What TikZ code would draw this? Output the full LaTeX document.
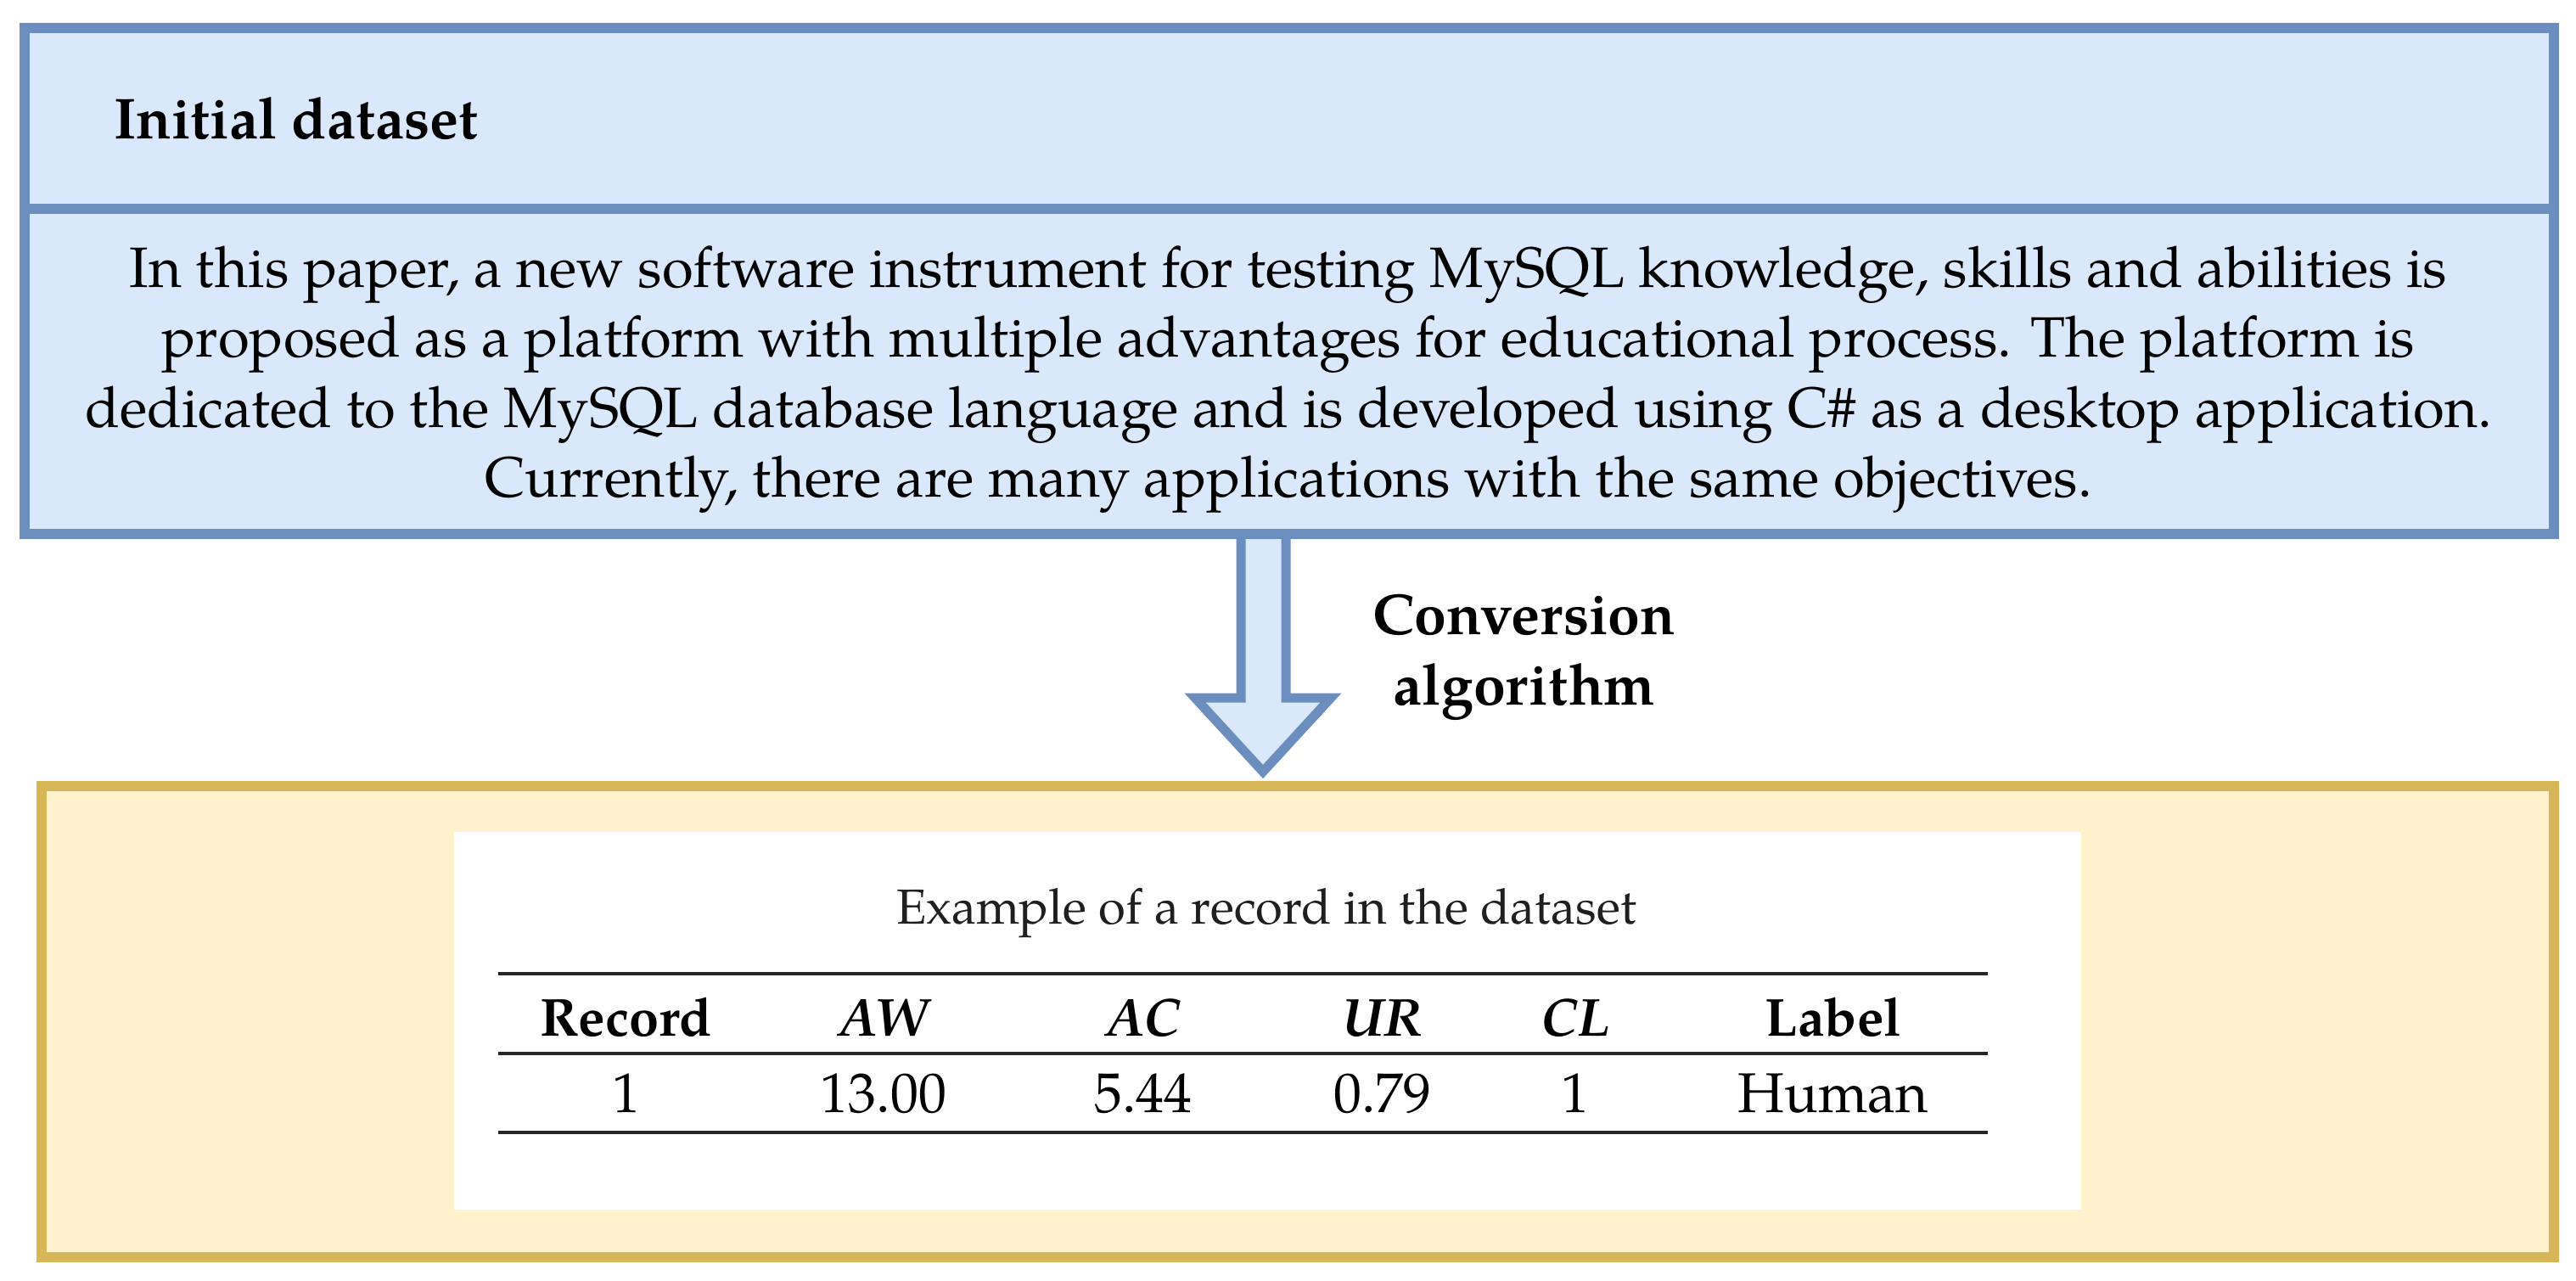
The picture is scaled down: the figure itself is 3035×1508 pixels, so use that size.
\documentclass[tikz,border=0pt]{standalone}
\usepackage{fontspec}
\setmainfont{TeX Gyre Pagella}
\definecolor{blueFill}{HTML}{DAE8FC}
\definecolor{blueLine}{HTML}{6C8EBF}
\definecolor{yelFill}{HTML}{FFF2CC}
\definecolor{yelLine}{HTML}{D6B656}
\tikzset{
  panelblue/.style={draw=blueLine, fill=blueFill, line width=12pt, inner sep=0pt, outer sep=0pt},
  panelyel/.style={draw=yelLine, fill=yelFill, line width=12pt, inner sep=0pt, outer sep=0pt},
  bodytext/.style={font=\fontsize{67}{80}\selectfont, anchor=base, inner sep=0pt},
  headtext/.style={font=\bfseries\fontsize{68}{80}\selectfont, anchor=base, inner sep=0pt},
  tabtext/.style={font=\fontsize{66}{72}\selectfont, anchor=base, inner sep=0pt},
  tabhead/.style={font=\bfseries\fontsize{63}{70}\selectfont, anchor=base, inner sep=0pt},
  tabrule/.style={line width=4.5pt, draw=black!85},
  blockarrow/.style={draw=blueLine, fill=blueFill, line width=11pt, line join=miter},
}
\begin{document}
\begin{tikzpicture}[x=1pt,y=-1pt]
\fill[white] (0,0) rectangle (3035,1508);
\useasboundingbox (0,0) rectangle (3035,1508);

% block arrow
\draw[blockarrow] (1462,629) -- (1462,822) -- (1408,822) -- (1488,909) -- (1568,822) -- (1515,822) -- (1515,629) -- cycle;

% top panel
\node[panelblue, minimum width=2980pt, minimum height=596pt] (topbox) at (1519,331) {};
\draw[blueLine, line width=12pt] (topbox.west |- 0,246) -- (topbox.east |- 0,246);
\node[headtext, anchor=base west] (title) at (134,163) {Initial dataset};
\node[bodytext] (l1) at (1518,338) {In this paper, a new software instrument for testing MySQL knowledge, skills and abilities is};
\node[bodytext] (l2) at (1518,420.5) {proposed as a platform with multiple advantages for educational process. The platform is};
\node[bodytext] (l3) at (1518,503) {dedicated to the MySQL database language and is developed using C\# as a desktop application.};
\node[bodytext] (l4) at (1518,585.5) {Currently, there are many applications with the same objectives.};

% label of the arrow
\node[headtext] (conv1) at (1796,747) {Conversion};
\node[headtext] (conv2) at (1796,830) {algorithm};

% bottom panel
\node[panelyel, minimum width=2960pt, minimum height=555pt] (botbox) at (1529,1203.5) {};
\node[fill=white, inner sep=0pt, outer sep=0pt, minimum width=1917pt, minimum height=445pt] (tabimg) at (1493.5,1202.5) {};
\node[font=\fontsize{58}{64}\selectfont, anchor=base, inner sep=0pt, text=black!88] (cap) at (1492,1088) {Example of a record in the dataset};

\draw[tabrule] (587,1147) -- (2342,1147);
\draw[tabrule] (587,1241) -- (2342,1241);
\draw[tabrule] (587,1334) -- (2342,1334);

\node[tabhead] (h1) at (738,1220) {Record};
\node[tabhead] (h2) at (1041,1220) {\itshape AW};
\node[tabhead] (h3) at (1347,1220) {\itshape AC};
\node[tabhead] (h4) at (1629,1220) {\itshape UR};
\node[tabhead] (h5) at (1856,1220) {\itshape CL};
\node[tabhead] (h6) at (2160,1220) {Label};

\node[tabtext] (r1) at (738,1310) {1};
\node[tabtext] (r2) at (1041,1310) {13.00};
\node[tabtext] (r3) at (1347,1310) {5.44};
\node[tabtext] (r4) at (1629,1310) {0.79};
\node[tabtext] (r5) at (1856,1310) {1};
\node[tabtext] (r6) at (2160,1310) {Human};
\end{tikzpicture}
\end{document}
